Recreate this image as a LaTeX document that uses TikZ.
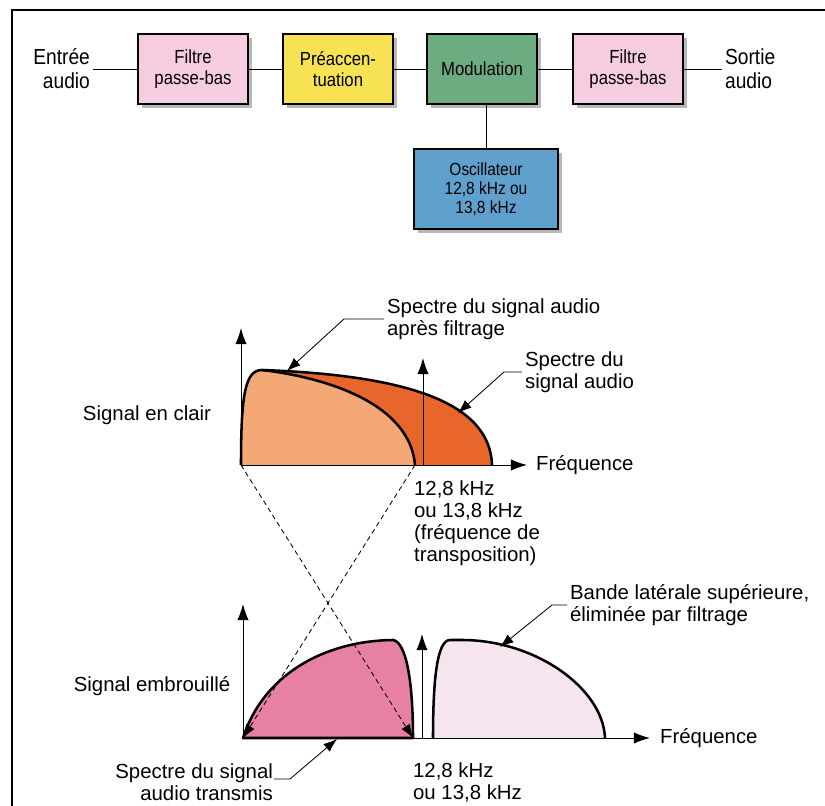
\documentclass[tikz,border=0pt]{standalone}
\usepackage{fontspec}
\setmainfont{Liberation Sans}
\newfontfamily\etroite[FakeStretch=0.88]{Liberation Sans}
\usetikzlibrary{arrows.meta,shadows}

\definecolor{rosefiltre}{RGB}{246,204,224}
\definecolor{jaune}{RGB}{246,226,82}
\definecolor{vert}{RGB}{108,172,128}
\definecolor{bleu}{RGB}{96,160,205}
\definecolor{orangeclair}{RGB}{244,168,118}
\definecolor{orangefonce}{RGB}{232,102,44}
\definecolor{rose}{RGB}{230,128,165}
\definecolor{rosepale}{RGB}{246,228,238}

\begin{document}
\begin{tikzpicture}[x=0.025cm,y=-0.025cm,>={Latex[length=4mm,width=2.8mm]},
  bloc/.style={draw,line width=1.7pt,minimum width=2.75cm,minimum height=1.75cm,align=center,
    font=\etroite\fontsize{13.5}{15}\selectfont,
    drop shadow={shadow xshift=1mm,shadow yshift=-1mm,fill=black!28,opacity=1}},
  etiq/.style={inner sep=2pt,font=\fontsize{14.5}{15.6}\selectfont},
  courbe/.style={line width=1.8pt,line join=round},
  axe/.style={line width=0.7pt,->},
  renvoi/.style={line width=0.6pt,->,>={Latex[length=3.4mm,width=2.5mm]}},
  croise/.style={line width=0.6pt,dash pattern=on 3.5pt off 2.5pt,-{Latex[length=3.4mm,width=2.5mm]}}]
  \useasboundingbox (0,0) rectangle (825,806);
  % cadre
  \draw[line width=0.8pt] (12,806) -- (12,10) -- (825,10);
  % chaine de traitement
  \node[etiq,anchor=east,align=right,font=\etroite\fontsize{15.5}{17}\selectfont] (entree) at (93,69) {Entrée\\audio};
  \node[bloc,fill=rosefiltre] (fpa) at (193,69) {Filtre\\passe-bas};
  \node[bloc,fill=jaune] (pre) at (338,69) {Préaccen-\\tuation};
  \node[bloc,fill=vert] (mod) at (482,69) {Modulation};
  \node[bloc,fill=rosefiltre] (fpb) at (628,69) {Filtre\\passe-bas};
  \node[etiq,anchor=west,align=left,font=\etroite\fontsize{15.5}{17}\selectfont] (sortie) at (722,69) {Sortie\\audio};
  \node[bloc,fill=bleu,minimum width=3.6cm,minimum height=2cm,font=\etroite\fontsize{12.5}{13.5}\selectfont] (osc) at (486,189) {Oscillateur\\12,8 kHz ou\\13,8 kHz};
  \foreach \a/\b in {entree/fpa,fpa/pre,pre/mod,mod/fpb,fpb/sortie}
    \draw[line width=0.7pt] (\a) -- (\b);
  \draw[line width=0.7pt] (osc.north) -- (osc.north |- mod.south);
  % signal en clair
  \coordinate (o1) at (241,465);
  \coordinate (f1) at (415,465);
  \coordinate (pa) at (287,371);
  \coordinate (pb) at (458,413);
  \fill[orangefonce] (o1) .. controls (241,395) and (245,370) .. (262,370) .. controls (400,375) and (490,400) .. (492,465) -- cycle;
  \fill[orangeclair] (o1) .. controls (241,395) and (245,370) .. (262,370) .. controls (330,378) and (410,405) .. (f1) -- cycle;
  \draw[courbe] (o1) .. controls (241,395) and (245,370) .. (262,370) .. controls (400,375) and (490,400) .. (492,465);
  \draw[courbe] (262,370) .. controls (330,378) and (410,405) .. (f1);
  \draw[axe] (o1) -- (241,328);
  \draw[axe] (o1) -- (527,465);
  \draw[axe] (423,465) -- (423,358);
  \node[etiq] (clair) at (147,415) {Signal en clair};
  \node[etiq,anchor=west] (freqa) at (533,465) {Fréquence};
  \node[etiq,anchor=north west,align=left] (transp) at (411,478) {12,8 kHz\\ou 13,8 kHz\\(fréquence de\\transposition)};
  \node[etiq,anchor=west,align=left] (apres) at (384,319) {Spectre du signal audio\\après filtrage};
  \node[etiq,anchor=west,align=left] (audio) at (522,372) {Spectre du\\signal audio};
  \draw[renvoi] (apres.west) -- ++(-40,0) -- (pa);
  \draw[renvoi] (audio.west) -- ++(-18,0) -- (pb);
  % signal embrouille
  \coordinate (o2) at (243,738);
  \coordinate (f2) at (413,738);
  \coordinate (pc) at (500,647);
  \coordinate (pd) at (337,739);
  \coordinate (sd) at (274,779);
  \filldraw[courbe,fill=rose] (o2) .. controls (262,678) and (320,641) .. (393,640) .. controls (406,642) and (413,680) .. (f2) -- cycle;
  \fill[rosepale] (433,738) .. controls (433,680) and (437,640) .. (450,640) -- (462,640) .. controls (535,640) and (603,688) .. (605,738) -- cycle;
  \draw[courbe] (433,738) .. controls (433,680) and (437,640) .. (450,640) -- (462,640) .. controls (535,640) and (603,688) .. (605,738);
  \draw[axe] (o2) -- (243,604);
  \draw[axe] (o2) -- (650,738);
  \draw[axe] (422,738) -- (422,634);
  \draw[croise] (o1) -- (f2);
  \draw[croise] (f1) -- (o2);
  \node[etiq] (embr) at (152,686) {Signal embrouillé};
  \node[etiq,anchor=west] (freqb) at (657,738) {Fréquence};
  \node[etiq,anchor=west,align=left] (bande) at (567,605) {Bande latérale supérieure,\\éliminée par filtrage};
  \node[etiq,anchor=east,align=right] (transmis) at (276,782) {Spectre du signal\\audio transmis};
  \node[etiq,anchor=west,align=left] (khz) at (410,782) {12,8 kHz\\ou 13,8 kHz};
  \draw[renvoi] (bande.west) -- ++(-15,0) -- (pc);
  \draw[renvoi] (sd) -- ++(16,0) -- (pd);
\end{tikzpicture}
\end{document}
